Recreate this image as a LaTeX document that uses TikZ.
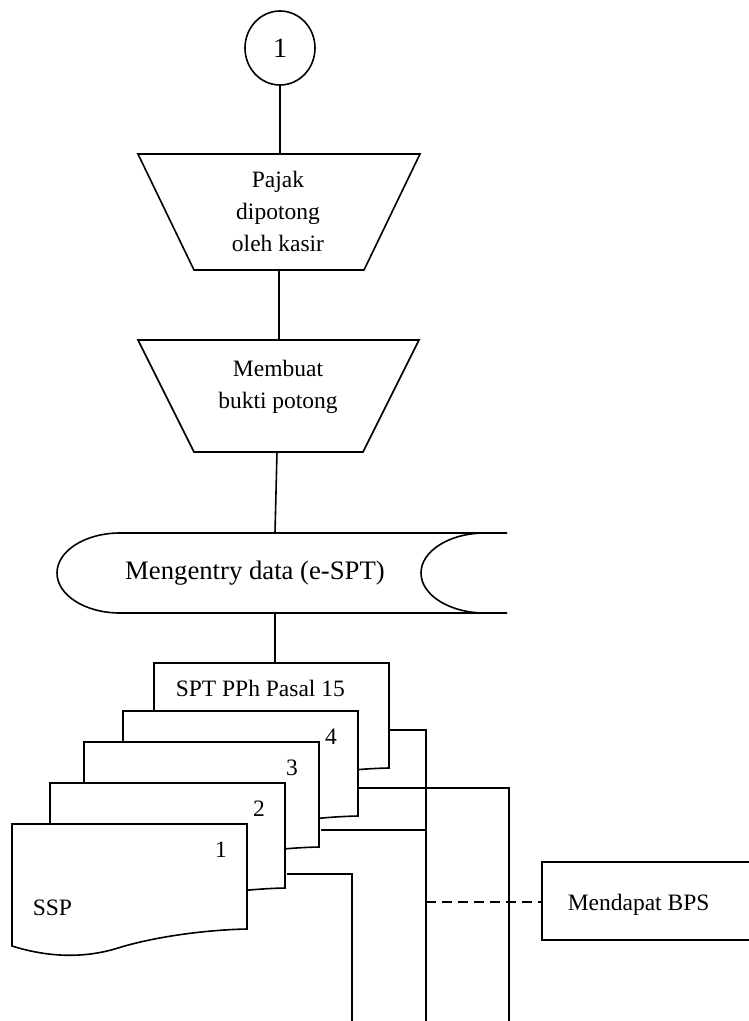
\documentclass[tikz,border=0pt]{standalone}
\usepackage{fontspec}
\setmainfont{Liberation Serif}
\usetikzlibrary{shapes.geometric}
\begin{document}
\begin{tikzpicture}[x=1pt,y=-1pt,line width=1.6pt,
  lbl/.style={inner sep=0pt,font=\fontsize{23.5}{32}\selectfont,align=center},
  biglbl/.style={inner sep=0pt,font=\fontsize{26.7}{30}\selectfont},
  shapeline/.style={draw=black,fill=white,line join=miter},
  wire/.style={draw=black},
  linkdash/.style={draw=black,dash pattern=on 10pt off 6pt}]
\useasboundingbox (0,0) rectangle (749,1021);

% on-page connector
\node[draw,ellipse,minimum width=70,minimum height=74,inner sep=0pt,
      font=\fontsize{28}{28}\selectfont] (conn) at (280,48) {1};

% manual operation: tax withheld by the cashier
\draw[shapeline] (138,154) -- (420,154) -- (364,270) -- (194,270) -- cycle;
\coordinate (potN) at (280,154);
\coordinate (potS) at (279,270);
\node[lbl] (pot) at (278,211) {Pajak\\dipotong\\oleh kasir};

% manual operation: withholding slip
\draw[shapeline] (138,340) -- (419,340) -- (363,452) -- (194,452) -- cycle;
\coordinate (slipN) at (279,340);
\coordinate (slipS) at (277,452);
\node[lbl] (slip) at (278,387) {Membuat\\bukti potong};

% stored data: e-SPT entry
\draw[line join=miter] (507,533) -- (120,533)
  .. controls (85.2,533) and (57,550.9) .. (57,573)
  .. controls (57,595.1) and (85.2,613) .. (120,613) -- (507,613);
\draw (485,533) .. controls (449.7,533) and (421,550.9) .. (421,573)
  .. controls (421,595.1) and (449.7,613) .. (485,613);
\coordinate (entryN) at (275,533);
\coordinate (entryS) at (275,613);
\node[biglbl,anchor=base] (entry) at (255,579) {Mengentry data (e-SPT)};

% stack of documents, back to front
\foreach \dx/\dy in {154/663,123/711,84/742,50/783,12/824}{
  \draw[shapeline,shift={(\dx,\dy)}] (0,0) -- (235,0) -- (235,105)
    .. controls (188,106) and (138,114) .. (106,124)
    .. controls (74,134) and (38,134) .. (0,122) -- cycle;
}
\coordinate (sptN) at (275,663);
\node[lbl,anchor=base west] (spt) at (175,696) {SPT PPh Pasal 15};
\node[lbl] (n4) at (331,737) {4};
\node[lbl] (n3) at (292,768) {3};
\node[lbl] (n2) at (259,809) {2};
\node[lbl] (n1) at (221,850) {1};
\node[lbl,anchor=base west] (ssp) at (32,915) {SSP};

% document edges where the copies leave the stack
\coordinate (spt5) at (389,730);
\coordinate (c4) at (358,788);
\coordinate (c3) at (321,830);
\coordinate (c2) at (287,874);

% routing points
\coordinate (r5) at (426,730);
\coordinate (r4) at (509,788);
\coordinate (r3) at (426,830);
\coordinate (r2) at (352,874);
\coordinate (e5) at (426,1021);
\coordinate (e4) at (509,1021);
\coordinate (e2) at (352,1021);
\coordinate (tap) at (426,902);

% process box, open on the right
\draw[line join=miter] (754,862) -- (542,862) -- (542,940) -- (754,940);
\coordinate (bpsW) at (542,902);
\node[lbl,anchor=base west] (bps) at (567,910) {Mendapat BPS};

% flow lines
\draw[wire] (conn.south) -- (potN);
\draw[wire] (potS) -- (slipN);
\draw[wire] (slipS) -- (entryN);
\draw[wire] (entryS) -- (sptN);
\draw[wire] (spt5) -- (r5) -- (e5);
\draw[wire] (c4) -- (r4) -- (e4);
\draw[wire] (c3) -- (r3);
\draw[wire] (c2) -- (r2) -- (e2);
\draw[linkdash] (tap) -- (bpsW);
\end{tikzpicture}
\end{document}
